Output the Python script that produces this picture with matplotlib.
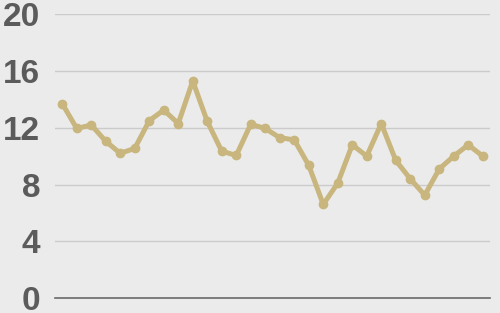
import matplotlib
matplotlib.use("Agg")
import matplotlib.pyplot as plt
import numpy as np

# values (30 points)
values = [13.7, 11.95, 12.2, 11.05, 10.2, 10.55, 12.5, 13.25, 12.3, 15.3,
          12.45, 10.35, 10.05, 12.25, 11.95, 11.3, 11.15, 9.35, 6.6, 8.1,
          10.8, 10.0, 12.3, 9.7, 8.4, 7.25, 9.1, 10.0, 10.8, 10.0]
yticks = [0, 4, 8, 12, 16, 20]

bg = "#ebebeb"
line_col = "#c8b67e"
text_col = "#5b5b5b"

fig = plt.figure(figsize=(5, 3.13), dpi=100)
fig.patch.set_facecolor(bg)
ax = fig.add_axes([0.11, 0.0479, 0.87, 0.9064])
ax.set_facecolor(bg)

x = np.arange(len(values))
ax.plot(x, values, color=line_col, lw=3.6, marker="o", ms=6,
        solid_joinstyle="round", solid_capstyle="round", clip_on=False, zorder=3)

ax.set_xlim(-0.5, len(values) - 0.5)
ax.set_ylim(0, 20)
ax.set_yticks(yticks)
ax.set_yticklabels([str(t) for t in yticks])
ax.set_xticks([])
ax.yaxis.grid(True, color="#cbcbcb", lw=1)
ax.set_axisbelow(True)

for s in ["top", "right", "left"]:
    ax.spines[s].set_visible(False)
ax.spines["bottom"].set_color("#6a6a6a")
ax.spines["bottom"].set_linewidth(1.2)
ax.spines["bottom"].set_zorder(2)

ax.tick_params(axis="y", length=0, pad=10.5, labelsize=24, labelcolor=text_col)
for lab in ax.get_yticklabels():
    lab.set_fontfamily("Liberation Sans")
    lab.set_fontweight("bold")

fig.savefig("out.png", dpi=100, facecolor=bg)
